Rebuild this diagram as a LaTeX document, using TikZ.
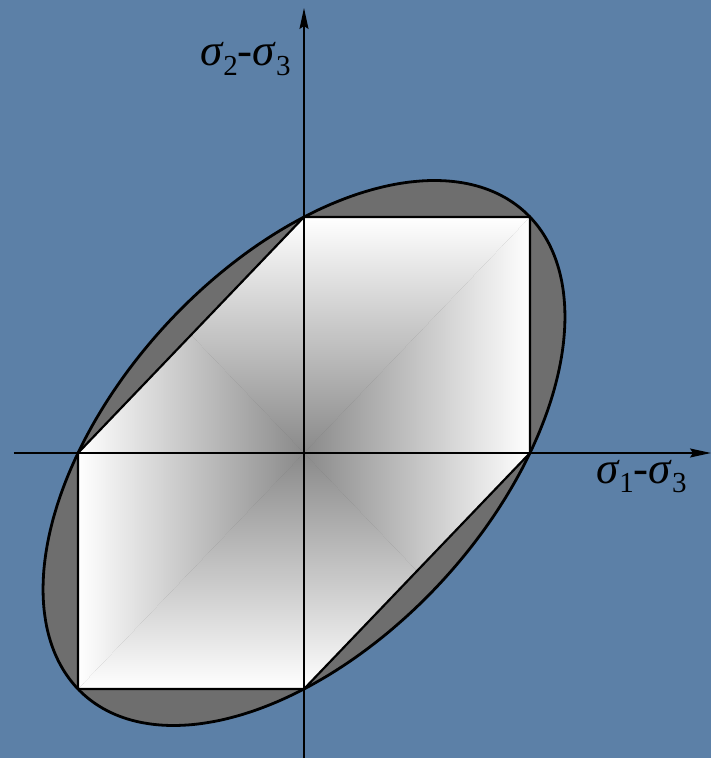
\documentclass[tikz,border=0pt]{standalone}
\usepackage{fontspec}
\setmainfont{Liberation Serif}
\usetikzlibrary{arrows.meta}
\definecolor{bgblue}{RGB}{92,128,167}
\definecolor{ringgray}{RGB}{110,110,110}
\definecolor{centergray}{RGB}{138,138,138}
\tikzset{
  axisline/.style={line width=1.4pt,-{Stealth[length=21pt,width=9pt,inset=3pt]}},
  outline/.style={line width=2.2pt,line join=round},
  lbl/.style={anchor=base west,inner sep=0pt,font=\fontsize{45}{45}\selectfont}
}
\newcommand{\sgm}[1]{{\itshape σ}\kern1pt\raisebox{-0.22em}{\fontsize{29}{29}\selectfont #1}}
\begin{document}
\begin{tikzpicture}[x=226pt,y=236pt]
\fill[bgblue] (-304pt,-305pt) rectangle (407pt,453pt);
\useasboundingbox (-304pt,-305pt) rectangle (407pt,453pt);
\coordinate (O) at (0,0);
\coordinate (A) at (1,0);
\coordinate (B) at (1,1);
\coordinate (C) at (0,1);
\coordinate (D) at (-1,0);
\coordinate (E) at (-1,-1);
\coordinate (F) at (0,-1);
\coordinate (TL) at (-1,1);
\coordinate (BR) at (1,-1);
% von Mises ellipse (filled)
\fill[ringgray] plot[domain=0:360,samples=240,smooth] ({cos(\x)+sin(\x)/sqrt(3)},{cos(\x)-sin(\x)/sqrt(3)}) -- cycle;
% Tresca hexagon with pyramid shading
\begin{scope}
\clip (A) -- (B) -- (C) -- (D) -- (E) -- (F) -- cycle;
\shade[top color=white,bottom color=centergray] (O) -- (TL) -- (B) -- cycle;
\shade[bottom color=white,top color=centergray] (O) -- (E) -- (BR) -- cycle;
\shade[left color=white,right color=centergray] (O) -- (TL) -- (E) -- cycle;
\shade[right color=white,left color=centergray] (O) -- (B) -- (BR) -- cycle;
\end{scope}
\draw[outline] (A) -- (B) -- (C) -- (D) -- (E) -- (F) -- cycle;
\draw[line width=2.8pt] plot[domain=0:360,samples=240,smooth] ({cos(\x)+sin(\x)/sqrt(3)},{cos(\x)-sin(\x)/sqrt(3)}) -- cycle;
% axes
\coordinate (xs) at (-290pt,0);
\coordinate (xe) at (407pt,0);
\coordinate (ys) at (0,-305pt);
\coordinate (ye) at (0,445pt);
\draw[axisline] (xs) -- (xe);
\draw[axisline] (ys) -- (ye);
% labels
\node[lbl] (l2) at (-104pt,387pt) {\sgm{2}-\sgm{3}};
\node[lbl] (l1) at (292pt,-30pt) {\sgm{1}-\sgm{3}};
\end{tikzpicture}
\end{document}
